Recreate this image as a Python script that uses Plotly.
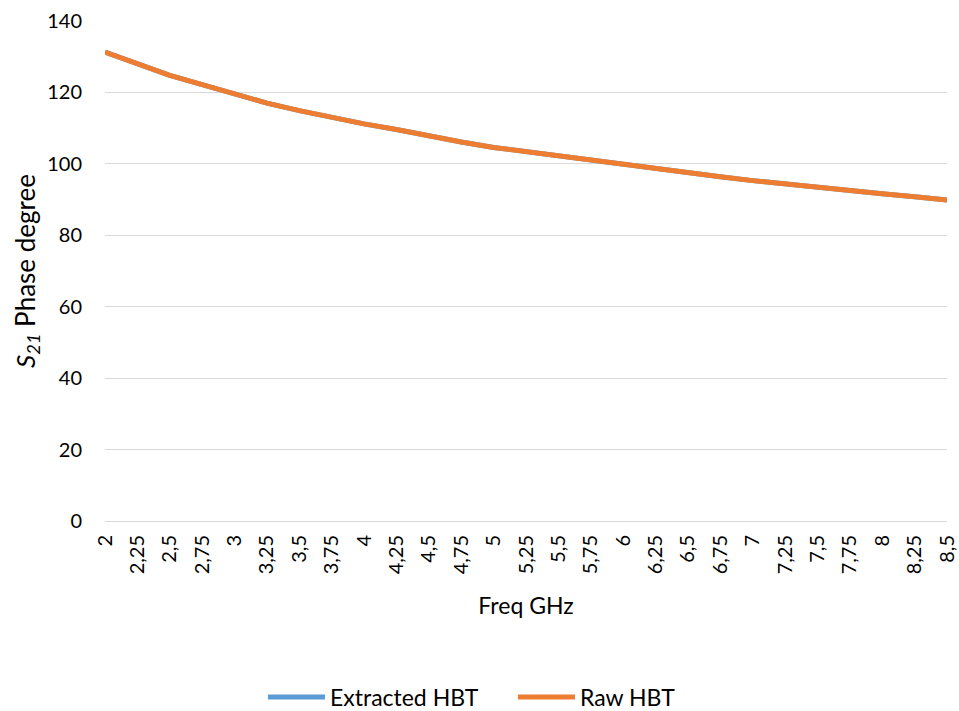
import plotly.graph_objects as go

freq_labels = ["2", "2,25", "2,5", "2,75", "3", "3,25", "3,5", "3,75", "4",
               "4,25", "4,5", "4,75", "5", "5,25", "5,5", "5,75", "6", "6,25",
               "6,5", "6,75", "7", "7,25", "7,5", "7,75", "8", "8,25", "8,5"]

extracted_hbt = [131.3, 127.9, 124.8, 122.2, 119.6, 117.0, 114.9, 113.0, 111.2,
                 109.6, 107.8, 106.1, 104.6, 103.4, 102.1, 100.9, 99.8, 98.6,
                 97.5, 96.4, 95.3, 94.3, 93.4, 92.5, 91.6, 90.8, 89.9]

raw_hbt = [131.3, 127.9, 124.8, 122.2, 119.6, 117.0, 114.9, 113.0, 111.2,
           109.6, 107.8, 106.1, 104.6, 103.4, 102.1, 100.9, 99.8, 98.6,
           97.5, 96.4, 95.3, 94.3, 93.4, 92.5, 91.6, 90.8, 89.9]

font = "Lato"

fig = go.Figure()
fig.add_trace(go.Scatter(x=freq_labels, y=extracted_hbt, mode="lines",
                         name="Extracted HBT",
                         line=dict(color="#5B9BD5", width=5)))
fig.add_trace(go.Scatter(x=freq_labels, y=raw_hbt, mode="lines",
                         name="Raw HBT",
                         line=dict(color="#ED7D31", width=5)))

fig.update_layout(
    width=959, height=711,
    margin=dict(l=105, r=12, t=21, b=190, autoexpand=False),
    paper_bgcolor="white", plot_bgcolor="white",
    font=dict(family=font, size=20, color="#000000"),
    showlegend=True,
    legend=dict(orientation="h", x=0.1876, xanchor="left",
                y=-0.352, yanchor="middle",
                font=dict(size=23), itemwidth=57, entrywidth=178,
                traceorder="normal"),
    xaxis=dict(type="category", range=[0, len(freq_labels) - 1],
               tickangle=-90, showgrid=False, showline=True,
               linecolor="#D9D9D9", linewidth=1, ticks="",
               ticklabelstandoff=5, automargin=False,
               title=dict(text="Freq GHz", font=dict(size=23), standoff=24)),
    yaxis=dict(range=[0, 140], dtick=20, showgrid=True, gridcolor="#D9D9D9",
               gridwidth=1, zeroline=False, showline=False, ticks="",
               ticklabelstandoff=22, automargin=False,
               title=dict(text="<i>S<sub>21</sub></i> Phase degree",
                          font=dict(size=26), standoff=4)),
)

# page body has a default 8px margin, drop it so the figure sits at 0,0
fig.write_html("out.html", config={"displayModeBar": False},
               post_script="document.body.style.margin='0px';")
